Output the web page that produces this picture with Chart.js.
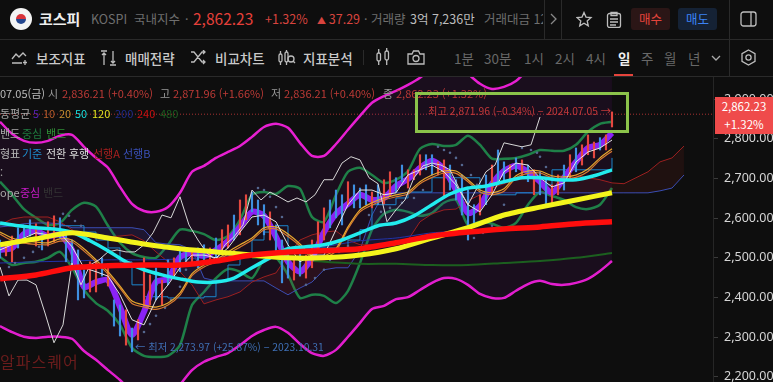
<!DOCTYPE html>
<html lang="ko">
<head>
<meta charset="UTF-8">
<title>코스피</title>
<script src="https://cdn.jsdelivr.net/npm/chart.js"></script>
<style>
    html, body { margin: 0; padding: 0; width: 773px; height: 382px; overflow: hidden; background: #0e0e0e; }
    body { font-family: "Noto Sans CJK KR", "Noto Sans", sans-serif; position: relative; color: #ccc; }
    .t { position: absolute; white-space: nowrap; line-height: 16px; font-size: 11px; z-index: 5; }
    .h { font-size: 12.5px; color: #6f6f6f; }
    .m { font-size: 13.5px; color: #c9c9c9; font-weight: 500; }
    .f { font-size: 13.5px; color: #686868; }
    .line { position: absolute; background: #2a2a2a; z-index: 4; }
    .r { color: #bd3a36; }
    svg { position: absolute; z-index: 5; fill: none; stroke: #bdbdbd; stroke-width: 1.3; }
    #chartWrap { position: absolute; left: 0; top: 77px; width: 773px; height: 305px; }
    #priceBox { position: absolute; left: 715px; top: 97px; width: 58px; height: 37px; background: #ef4b4b; color: #fff; font-size: 11.5px; line-height: 18px; text-align: center; z-index: 6; }
    #greenBox { position: absolute; left: 415px; top: 92px; width: 208px; height: 35px; border: 3px solid #8bc34a; z-index: 5; }
</style>
</head>
<body>
    <!-- top bar -->
    <svg style="left:10px;top:8px" width="22" height="22" viewBox="0 0 22 22"><circle cx="11" cy="11" r="11" fill="#f4f4f4" stroke="none"/><path d="M6 11a5 5 0 0 1 10 0z" fill="#d8333a" stroke="none"/><path d="M6 11a5 5 0 0 0 10 0z" fill="#24478f" stroke="none"/></svg>
    <div class="t" style="left:39px;top:11px;font-size:15px;font-weight:700;color:#eee">코스피</div>
    <div class="t h" style="left:91px;top:11px">KOSPI</div>
    <div class="t h" style="left:134px;top:11px">국내지수</div>
    <div class="t h" style="left:185px;top:11px">·</div>
    <div class="t" style="left:193px;top:10px;font-size:15.5px;color:#e5403a">2,862.23</div>
    <div class="t" style="left:265px;top:11px;font-size:12.5px;color:#d8443e">+1.32%</div>
    <div class="t" style="left:317px;top:11px;font-size:12.5px;color:#d8443e"><span style="font-size:9px">▲</span> 37.29</div>
    <div class="t h" style="left:364px;top:11px">· 거래량</div>
    <div class="t" style="left:410px;top:11px;font-size:12.5px;color:#bdbdbd">3억 7,236만</div>
    <div class="t h" style="left:484px;top:11px;width:59px;overflow:hidden">거래대금 12조</div>
    <svg style="left:550px;top:13px;stroke:#888" width="8" height="12"><path d="M1 1l5 5-5 5"/></svg>
    <div class="line" style="left:544px;top:0;width:1px;height:39px"></div>
    <div class="line" style="left:561px;top:0;width:1px;height:39px"></div>
    <svg style="left:576px;top:11px" width="17" height="17" viewBox="0 0 17 17"><path d="M8 1.5l2 4.6 5 .5-3.8 3.3 1.1 4.9-4.3-2.6-4.3 2.6 1.1-4.9L1 6.6l5-.5z"/></svg>
    <svg style="left:606px;top:11px" width="16" height="17" viewBox="0 0 16 17"><rect x="1.5" y="2.5" width="13" height="14" rx="2"/><path d="M5 1.5h6v3H5zM4 8h8M4 11h8M4 14h6"/></svg>
    <div class="t" style="left:631px;top:8px;width:39px;height:22px;line-height:21px;background:#2b1616;border-radius:3px;text-align:center;font-size:12.5px;color:#e5443c">매수</div>
    <div class="t" style="left:678px;top:8px;width:39px;height:22px;line-height:21px;background:#152235;border-radius:3px;text-align:center;font-size:12.5px;color:#3b82f6">매도</div>
    <div class="line" style="left:729px;top:0;width:1px;height:76px"></div>
    <svg style="left:740px;top:11px" width="17" height="16" viewBox="0 0 17 16"><rect x="1" y="1" width="15" height="14" rx="2.5"/><path d="M11 1v14"/></svg>
    <div class="line" style="left:0;top:39px;width:773px;height:1px"></div>

    <!-- tool bar -->
    <svg style="left:11px;top:50px" width="17" height="15" viewBox="0 0 17 15"><path d="M1 9l4-5 3 3 4-4 3 3M1 13h10M14 10v5M12 12.5h4"/></svg>
    <div class="t m" style="left:36px;top:50px">보조지표</div>
    <svg style="left:100px;top:50px" width="17" height="16" viewBox="0 0 17 16"><path d="M1 1h6M4 3v12M2 5l2-2 2 2M10 15h6M13 1v12M11 11l2 2 2-2"/></svg>
    <div class="t m" style="left:125px;top:50px">매매전략</div>
    <svg style="left:190px;top:50px" width="17" height="15" viewBox="0 0 17 15"><path d="M1 2h3l8 10h3M1 12h3l8-10h3M13 0l2 2-2 2M13 10l2 2-2 2"/></svg>
    <div class="t m" style="left:215px;top:50px">비교차트</div>
    <svg style="left:278px;top:50px" width="18" height="16" viewBox="0 0 18 16"><rect x="1" y="4" width="3" height="8" rx="1.4"/><rect x="7" y="2" width="3" height="10" rx="1.4"/><path d="M2.5 1v3M2.5 12v3M8.5 0v2M8.5 12v3"/><circle cx="13" cy="9" r="3"/><path d="M15 11l2 2"/></svg>
    <div class="t m" style="left:303px;top:50px">지표분석</div>
    <div class="line" style="left:363px;top:50px;width:1px;height:15px"></div>
    <svg style="left:376px;top:48px" width="15" height="18" viewBox="0 0 15 18"><rect x="1" y="5" width="3.5" height="8" rx="1.5"/><rect x="9" y="3" width="3.5" height="9" rx="1.5"/><path d="M2.7 1v4M2.7 13v4M10.7 0v3M10.7 12v5"/></svg>
    <svg style="left:407px;top:50px" width="18" height="15" viewBox="0 0 18 15"><path d="M1 4h4l1.5-3h5L13 4h4v10H1z"/><circle cx="9" cy="8.5" r="3"/></svg>
    <div class="t f" style="left:454px;top:50px">1분</div>
    <div class="t f" style="left:484px;top:50px">30분</div>
    <div class="t f" style="left:524px;top:50px">1시</div>
    <div class="t f" style="left:555px;top:50px">2시</div>
    <div class="t f" style="left:586px;top:50px">4시</div>
    <div class="t f" style="left:618px;top:50px;color:#f0f0f0;font-weight:700">일</div>
    <div class="t f" style="left:641px;top:50px">주</div>
    <div class="t f" style="left:664px;top:50px">월</div>
    <div class="t f" style="left:688px;top:50px">년</div>
    <svg style="left:711px;top:55px;stroke:#aaa" width="10" height="7"><path d="M1 1l4 4 4-4"/></svg>
    <svg style="left:740px;top:49px" width="17" height="17" viewBox="0 0 17 17"><path d="M8.5 1l6.5 3.7v7.6L8.5 16 2 12.3V4.7z"/><circle cx="8.5" cy="8.5" r="2.6"/></svg>
    <div class="line" style="left:614px;top:74px;width:19px;height:2px;background:#e5443c;z-index:6"></div>
    <div class="line" style="left:0;top:76px;width:773px;height:1px"></div>

    <div id="chartWrap"><canvas id="kospiChart" width="773" height="305"></canvas></div>

    <!-- indicator legend rows -->
    <div class="t" style="left:0;top:85px;color:#bbb">07.05(금)</div>
    <div class="t" style="left:48px;top:85px;color:#999">시</div>
    <div class="t r" style="left:62px;top:85px">2,836.21 (+0.40%)</div>
    <div class="t" style="left:160px;top:85px;color:#999">고</div>
    <div class="t r" style="left:173px;top:85px">2,871.96 (+1.66%)</div>
    <div class="t" style="left:271px;top:85px;color:#999">저</div>
    <div class="t r" style="left:284px;top:85px">2,836.21 (+0.40%)</div>
    <div class="t" style="left:383px;top:85px;color:#999">종</div>
    <div class="t r" style="left:396px;top:85px">2,862.23 (+1.32%)</div>

    <div class="t" style="left:0;top:105px;color:#aaa">동평균</div>
    <div class="t" style="left:33px;top:105px;color:#5b21b6">5</div>
    <div class="t" style="left:43px;top:105px;color:#b35c2a">10</div>
    <div class="t" style="left:59px;top:105px;color:#c98f2f">20</div>
    <div class="t" style="left:75px;top:105px;color:#19dfe0">50</div>
    <div class="t" style="left:92px;top:105px;color:#e3e320">120</div>
    <div class="t" style="left:115px;top:105px;color:#1e2a8a">200</div>
    <div class="t" style="left:137px;top:105px;color:#c80f0f">240</div>
    <div class="t" style="left:160px;top:105px;color:#1b5e20">480</div>

    <div class="t" style="left:0;top:125px;color:#aaa">밴드</div>
    <div class="t" style="left:22px;top:125px;color:#1f7a3f">중심</div>
    <div class="t" style="left:46px;top:125px;color:#2f8f36">밴드</div>

    <div class="t" style="left:0;top:145px;color:#bbb">형표</div>
    <div class="t" style="left:22px;top:145px;color:#1d8fd0">기준</div>
    <div class="t" style="left:46px;top:145px;color:#ddd">전환</div>
    <div class="t" style="left:69px;top:145px;color:#ddd">후행</div>
    <div class="t" style="left:93px;top:145px;color:#a82020">선행A</div>
    <div class="t" style="left:123px;top:145px;color:#3a50b8">선행B</div>

    <div class="t" style="left:0;top:164px;color:#aaa">:</div>

    <div class="t" style="left:0;top:184px;color:#aaa">ope</div>
    <div class="t" style="left:20px;top:184px;color:#c81ac8">중심</div>
    <div class="t" style="left:43px;top:184px;color:#333">밴드</div>

    <!-- annotations -->
    <div id="greenBox"></div>
    <div class="t" style="left:428px;top:103px;font-size:10.3px;color:#c6393a">최고 2,871.96 (−0.34%) − 2024.07.05 →</div>
    <div class="t" style="left:135px;top:339px;font-size:10.3px;color:#3f6fb5">← 최저 2,273.97 (+25.87%) − 2023.10.31</div>
    <div class="t" style="left:0;top:349px;font-size:16px;line-height:24px;letter-spacing:1px;color:#6b1c1c">알파스퀘어</div>
    <div id="priceBox">2,862.23<br>+1.32%</div>

    <script>
        // every value is a KOSPI level, x is counted in trading days (3px each)
        const yTicks = [2200, 2300, 2400, 2500, 2600, 2700, 2800, 2900];
        const lastPrice = [2862.23, 2862.23];
        const priceLineDays = [0, 238];

        // one value every 4 days
        const envelopeUpper = [2843, 2813, 2795, 2790, 2795, 2808, 2810, 2780, 2752, 2727, 2679, 2636, 2618,
            2616, 2628, 2664, 2717, 2732, 2752, 2767, 2782, 2805, 2830, 2838, 2828, 2790,
            2757, 2757, 2787, 2823, 2858, 2891, 2908, 2921, 2936, 2954, 2979, 2994, 2989,
            2964, 2939, 2926, 2931, 2946, 2974, 2994, 3004, 3012, 3019, 3029, 3040, 3050];
        const envelopeLower = [2328, 2313, 2301, 2298, 2301, 2301, 2296, 2265, 2243, 2217, 2192, 2162, 2142,
            2129, 2142, 2180, 2217, 2238, 2250, 2260, 2280, 2303, 2318, 2326, 2311, 2283,
            2260, 2253, 2268, 2301, 2336, 2371, 2379, 2396, 2401, 2419, 2437, 2449, 2447,
            2432, 2409, 2399, 2399, 2417, 2434, 2442, 2434, 2432, 2437, 2447, 2467, 2492];
        const bollUpper = [2692, 2659, 2623, 2601, 2583, 2588, 2621, 2639, 2629, 2581, 2538, 2512, 2502,
            2500, 2533, 2571, 2568, 2560, 2545, 2555, 2596, 2659, 2666, 2661, 2681, 2674,
            2603, 2591, 2659, 2717, 2727, 2709, 2689, 2697, 2719, 2775, 2787, 2782, 2785,
            2808, 2785, 2750, 2750, 2752, 2760, 2772, 2770, 2770, 2785, 2818, 2838, 2843];
        const bollLower = [2502, 2482, 2487, 2490, 2500, 2515, 2475, 2419, 2386, 2366, 2331, 2273, 2253,
            2250, 2253, 2280, 2381, 2414, 2449, 2472, 2465, 2449, 2495, 2500, 2457, 2399,
            2407, 2404, 2386, 2417, 2487, 2571, 2611, 2621, 2616, 2606, 2613, 2639, 2646,
            2583, 2591, 2586, 2576, 2588, 2634, 2666, 2656, 2646, 2628, 2623, 2634, 2676];
        const envelopeMiddle = [2520, 2525, 2560, 2568, 2555, 2558, 2520, 2427, 2439, 2444, 2376, 2306, 2364,
            2439, 2447, 2502, 2512, 2505, 2520, 2543, 2578, 2616, 2606, 2553, 2490, 2465,
            2500, 2565, 2611, 2636, 2659, 2646, 2651, 2681, 2699, 2727, 2745, 2724, 2671,
            2613, 2631, 2687, 2719, 2732, 2717, 2692, 2664, 2702, 2742, 2777, 2785, 2815];
        const ma20 = [2565, 2550, 2543, 2540, 2538, 2548, 2545, 2523, 2495, 2465, 2429, 2391, 2381,
            2376, 2386, 2412, 2460, 2482, 2495, 2515, 2533, 2550, 2576, 2578, 2560, 2535,
            2505, 2505, 2523, 2578, 2621, 2639, 2651, 2659, 2666, 2692, 2709, 2719, 2719,
            2697, 2671, 2664, 2674, 2707, 2719, 2719, 2707, 2704, 2709, 2724, 2752, 2775];
        const ma10 = [2560, 2544, 2537, 2534, 2533, 2542, 2540, 2517, 2490, 2459, 2424, 2385, 2376,
            2370, 2381, 2406, 2455, 2477, 2490, 2510, 2527, 2545, 2571, 2573, 2554, 2530,
            2500, 2500, 2517, 2573, 2616, 2633, 2646, 2654, 2661, 2687, 2703, 2714, 2713,
            2692, 2666, 2659, 2668, 2702, 2713, 2714, 2702, 2699, 2703, 2718, 2747, 2769];
        const tenkan = [2520, 2533, 2550, 2563, 2558, 2563, 2528, 2475, 2465, 2454, 2407, 2344, 2331,
            2394, 2432, 2475, 2507, 2507, 2500, 2525, 2565, 2603, 2608, 2591, 2533, 2490,
            2507, 2507, 2571, 2634, 2671, 2671, 2659, 2664, 2709, 2722, 2734, 2717, 2684,
            2634, 2616, 2659, 2717, 2739, 2734, 2702, 2679, 2689, 2742, 2767, 2777, 2797];
        const kijun = [2583, 2583, 2571, 2571, 2571, 2581, 2581, 2565, 2545, 2525, 2490, 2432, 2402,
            2402, 2399, 2399, 2399, 2402, 2444, 2482, 2507, 2545, 2565, 2581, 2525, 2525,
            2525, 2525, 2525, 2545, 2571, 2634, 2634, 2651, 2666, 2666, 2702, 2702, 2702,
            2702, 2664, 2659, 2659, 2664, 2664, 2684, 2722, 2722, 2722, 2722, 2722, 2752];
        const senkouA = [2583, 2598, 2603, 2603, 2603, 2591, 2571, 2555, 2550, 2553, 2555, 2558, 2543,
            2515, 2490, 2465, 2432, 2384, 2394, 2402, 2414, 2439, 2452, 2462, 2507, 2545,
            2558, 2565, 2568, 2545, 2533, 2533, 2533, 2533, 2545, 2591, 2611, 2621, 2623,
            2644, 2659, 2676, 2687, 2697, 2702, 2704, 2704, 2707, 2707, 2702, 2697, 2689,
            2687, 2702, 2717, 2742, 2752, 2782];
        const senkouB = [2578, 2581, 2586, 2588, 2588, 2586, 2576, 2576, 2576, 2576, 2576, 2576, 2571,
            2538, 2535, 2533, 2520, 2449, 2442, 2442, 2442, 2442, 2442, 2424, 2407, 2424,
            2439, 2470, 2475, 2475, 2520, 2608, 2664, 2664, 2664, 2664, 2664, 2664, 2664,
            2664, 2664, 2664, 2664, 2664, 2664, 2664, 2664, 2664, 2664, 2664, 2664, 2664,
            2664, 2664, 2664, 2669, 2676, 2709];

        // one value every 3 days, stops 26 days before the last candle
        const chikou = [2477, 2404, 2444, 2444, 2432, 2361, 2286, 2331, 2487, 2432, 2482, 2495, 2515, 2520, 2515,
            2515, 2533, 2563, 2608, 2601, 2654, 2583, 2545, 2512, 2495, 2533, 2553, 2583, 2671, 2646,
            2666, 2654, 2641, 2651, 2641, 2659, 2697, 2697, 2739, 2755, 2747, 2702, 2687, 2591, 2621,
            2646, 2702, 2732, 2739, 2734, 2722, 2676, 2634, 2676, 2717, 2734, 2790, 2785, 2780, 2785, 2855];

        // one value every 6 days
        const ma50 = [2588, 2581, 2576, 2573, 2565, 2543, 2518, 2490, 2470, 2457, 2447, 2439, 2439, 2449, 2475, 2500, 2523, 2528,
            2533, 2545, 2563, 2581, 2588, 2606, 2634, 2661, 2676, 2681, 2692, 2702, 2702, 2697, 2697, 2707, 2722];

        // one value every 12 days
        const ma120 = [2533, 2548, 2563, 2550, 2535, 2523, 2515, 2507, 2500, 2500, 2507, 2523, 2550, 2576, 2608, 2628, 2646, 2664];
        const ma200 = [2487, 2490, 2492, 2495, 2495, 2497, 2502, 2510, 2518, 2528, 2543, 2550, 2563, 2568, 2573, 2578, 2583, 2591];
        const ma240 = [2447, 2457, 2475, 2480, 2482, 2482, 2492, 2507, 2515, 2518, 2523, 2538, 2555, 2565, 2573, 2578, 2586, 2591];
        const ma480 = [2500, 2497, 2490, 2485, 2485, 2482, 2482, 2487, 2492, 2500, 2512];
        const ma480Start = 84;

        // parabolic dots
        const sarDays = [3, 5, 8, 11, 13, 16, 21, 23, 25, 27, 29, 48, 50, 52, 55, 57, 60, 62, 67, 86, 88, 90, 92, 94, 96, 98,
            102, 105, 108, 110, 113, 116, 123, 127, 130, 134, 138, 141, 146, 148, 150, 152, 154, 157, 159,
            158, 161, 164, 167, 168, 174, 177, 179, 180, 182, 184, 185, 187, 190];
        const sarValues = [2477, 2487, 2500, 2515, 2528, 2538, 2611, 2606, 2593, 2581, 2560, 2313, 2333, 2354, 2374, 2394, 2427, 2470, 2520,
            2676, 2671, 2654, 2628, 2603, 2555, 2520, 2432, 2449, 2470, 2495, 2515, 2530, 2608, 2616, 2626, 2639, 2651, 2671,
            2780, 2772, 2765, 2752, 2734, 2709, 2684, 2550, 2563, 2581, 2601, 2634, 2777, 2772, 2765, 2755, 2729, 2704, 2634, 2636, 2644];

        // one candle every 2 days
        const candleHigh = [2545, 2540, 2555, 2576, 2581, 2596, 2586, 2565, 2591, 2606, 2601, 2565, 2545, 2520, 2470, 2490, 2490, 2500, 2475, 2394,
            2381, 2369, 2323, 2344, 2500, 2457, 2475, 2444, 2495, 2500, 2520, 2525, 2520, 2525, 2533, 2525, 2550, 2571, 2583, 2608,
            2646, 2659, 2666, 2646, 2634, 2616, 2583, 2545, 2520, 2495, 2520, 2507, 2545, 2591, 2626, 2646, 2671, 2659, 2692, 2684,
            2676, 2684, 2666, 2684, 2697, 2717, 2702, 2734, 2722, 2722, 2760, 2760, 2760, 2742, 2747, 2734, 2697, 2709, 2671, 2634,
            2659, 2709, 2734, 2772, 2742, 2734, 2752, 2747, 2734, 2722, 2717, 2702, 2684, 2709, 2734, 2760, 2777, 2785, 2810, 2792,
            2803, 2810, 2868];
        const candleLow = [2500, 2505, 2490, 2525, 2545, 2555, 2530, 2520, 2530, 2540, 2550, 2490, 2470, 2394, 2399, 2414, 2414, 2454, 2429, 2328,
            2303, 2280, 2263, 2293, 2381, 2381, 2394, 2381, 2432, 2449, 2465, 2490, 2490, 2475, 2490, 2490, 2500, 2520, 2525, 2545,
            2558, 2596, 2616, 2583, 2558, 2545, 2507, 2437, 2449, 2444, 2454, 2449, 2475, 2520, 2545, 2576, 2601, 2583, 2634, 2626,
            2626, 2634, 2626, 2634, 2636, 2656, 2666, 2692, 2676, 2697, 2709, 2722, 2709, 2709, 2651, 2671, 2646, 2608, 2545, 2583,
            2608, 2634, 2659, 2684, 2697, 2697, 2717, 2702, 2692, 2659, 2659, 2634, 2634, 2659, 2671, 2702, 2717, 2734, 2760, 2752,
            2772, 2772, 2830];
        const candleUp = [0, 1, 1, 0, 0, 0, 1, 0, 1, 1, 0, 0, 0, 0, 0, 1, 1, 0, 1, 0,
            0, 1, 0, 1, 1, 1, 0, 1, 0, 1, 0, 0, 1, 0, 0, 1, 0, 1, 1, 0,
            1, 1, 0, 0, 0, 1, 0, 0, 0, 1, 0, 1, 1, 1, 1, 0, 0, 0, 1, 0,
            0, 0, 1, 0, 1, 1, 0, 0, 1, 1, 1, 0, 0, 1, 1, 0, 0, 0, 0, 0,
            1, 0, 1, 0, 0, 1, 0, 1, 0, 1, 0, 0, 1, 1, 0, 1, 0, 1, 1, 1,
            0, 1, 1];

        function pts(values, stepDays, startDay = 0) {
            return values.map((v, i) => ({ x: startDay + i * stepDays, y: v }));
        }

        function lineSet(values, step, color, width, extra = {}) {
            return Object.assign({
                type: 'line',
                data: pts(values, step),
                borderColor: color,
                borderWidth: width,
                pointRadius: 0,
                tension: 0.25,
                fill: false
            }, extra);
        }

        // first dataset in the list ends up on top
        const datasets = [
            lineSet(ma240, 12, '#ff0d0d', 5.5),
            lineSet(ma120, 12, '#f4f41c', 5),
            lineSet(ma50, 6, '#22ecee', 3.5),
            lineSet(chikou, 3, '#d8d8d8', 1, { tension: 0 }),
            lineSet(tenkan, 4, '#e6e6e6', 1, { tension: 0 }),
            lineSet(ma20, 4, '#e8a82e', 1.2),
            lineSet(ma10, 4, '#d87a30', 1.2),
            {
                type: 'bar',
                data: candleHigh.map((h, i) => ({ x: i * 2, y: [candleLow[i], h] })),
                backgroundColor: candleUp.map(u => u ? '#e4483f' : '#3f8fe0'),
                barThickness: 1.5
            },
            lineSet(envelopeMiddle, 4, '#8a22f5', 6),
            {
                type: 'line',
                data: sarDays.map((d, i) => ({ x: d, y: sarValues[i] })),
                showLine: false,
                pointRadius: 1.3,
                pointBackgroundColor: '#55678f',
                pointBorderWidth: 0
            },
            lineSet(kijun, 4, '#1d86cc', 1, { stepped: true, tension: 0 }),
            lineSet(ma200, 12, '#2233a8', 1),
            lineSet(ma480, 12, '#1c5f1f', 2, { data: pts(ma480, 12, ma480Start) }),
            lineSet(senkouA, 4, '#9c2020', 1, {
                tension: 0,
                fill: { target: '+1', above: 'rgba(160,40,30,0.12)', below: 'rgba(60,80,190,0.12)' }
            }),
            lineSet(senkouB, 4, '#3a50b8', 1, { tension: 0 }),
            lineSet(bollUpper, 4, '#1f8048', 2.5),
            lineSet(bollLower, 4, '#1f8048', 2.5),
            lineSet(envelopeUpper, 4, '#e81fd2', 2.5, { fill: { target: '+1', above: 'rgba(150,20,190,0.09)' } }),
            lineSet(envelopeLower, 4, '#e81fd2', 2.5),
            {
                type: 'line',
                data: priceLineDays.map((d, i) => ({ x: d, y: lastPrice[i] })),
                borderColor: '#a83232',
                borderWidth: 1,
                borderDash: [1, 2],
                pointRadius: 0
            }
        ];

        new Chart(document.getElementById('kospiChart').getContext('2d'), {
            type: 'line',
            data: { datasets: datasets },
            options: {
                responsive: false,
                animation: false,
                events: [],
                layout: { padding: 0, autoPadding: false },
                plugins: { legend: { display: false }, tooltip: { enabled: false } },
                scales: {
                    x: { type: 'linear', display: false, min: 0, max: 237.67, offset: false, grid: { offset: false } },
                    y: {
                        type: 'linear',
                        position: 'right',
                        min: 2187,
                        max: 2956,
                        bounds: 'data',
                        beginAtZero: false,
                        afterBuildTicks: axis => { axis.ticks = yTicks.map(v => ({ value: v })); },
                        afterFit: axis => { axis.width = 60; axis.paddingTop = 0; axis.paddingBottom = 0; },
                        grid: { drawOnChartArea: false, color: '#3a3a3a', tickLength: 5 },
                        border: { color: '#262626' },
                        ticks: {
                            color: '#d6d6d6',
                            padding: 6,
                            font: { family: 'Noto Sans', size: 12.5 },
                            autoSkip: false,
                            callback: v => v.toLocaleString('en-US', { minimumFractionDigits: 2 })
                        }
                    }
                }
            }
        });
    </script>
</body>
</html>
